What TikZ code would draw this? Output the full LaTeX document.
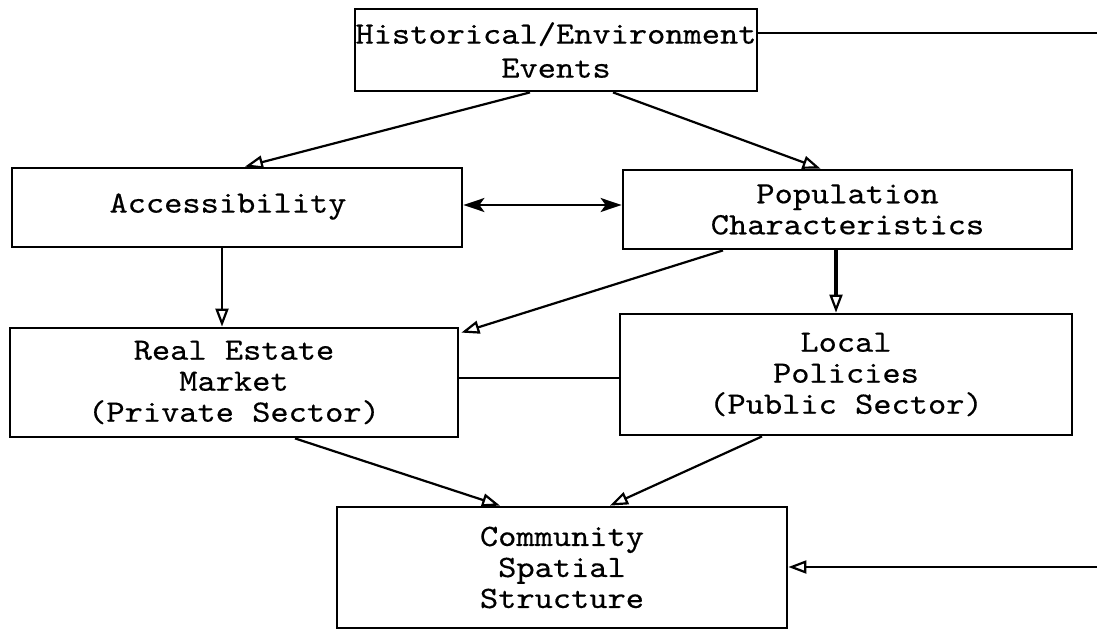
\documentclass[tikz,border=0pt]{standalone}
\usepackage{fontspec}
\newfontfamily\typew{lmmono10-regular.otf}[FakeStretch=1.12,FakeBold=0.4]
\usetikzlibrary{arrows.meta,calc}
\begin{document}
\begin{tikzpicture}[x=1pt,y=-1pt,
  box/.style={draw, line width=2.8pt, inner sep=0pt, align=center,
    font=\typew\fontsize{31}{31}\selectfont},
  conn/.style={line width=2.2pt},
  arr/.style={conn, -{Triangle[open,length=18pt,width=13pt]}},
  dbl/.style={conn, {Stealth[length=21pt,width=14pt,inset=5pt]}-{Stealth[length=21pt,width=14pt,inset=5pt]}}
]
\useasboundingbox[fill=white] (0,0) rectangle (1097,629);

\node[box, minimum width=402pt, minimum height=82pt] (hist) at (556,50)
  {Historical/Environment\\[3pt]Events};
\node[box, minimum width=450pt, minimum height=79pt] (acc) at (237,207.5)
  {\raisebox{9pt}{Accessibility\hspace*{18pt}}};
\node[box, minimum width=449pt, minimum height=79pt] (pop) at (847.5,209.5)
  {Population\\Characteristics};
\node[box, minimum width=448pt, minimum height=109pt] (real) at (234,382.5)
  {Real Estate\\Market\\(Private Sector)};
\node[box, minimum width=452pt, minimum height=121pt] (local) at (846,374.5)
  {Local\\Policies\\(Public Sector)};
\node[box, minimum width=450pt, minimum height=121pt] (comm) at (562,567.5)
  {Community\\Spatial\\Structure};

\coordinate (rtop) at (1097,33);
\coordinate (rbot) at (1097,567);

\draw[arr] ($(hist.south)+(-26,0)$) -- ($(acc.north)+(8,0)$);
\draw[arr] ($(hist.south)+(57,0)$) -- ($(pop.north)+(-27,0)$);
\draw[dbl] ($(acc.east)+(0,-2.5)$) -- ($(pop.west)+(0,-4.5)$);
\draw[arr] ($(acc.south)+(-15,0)$) -- ($(real.north)+(-12,0)$);
\draw[line width=4pt, -{Triangle[open,length=18pt,width=13pt,line width=2.2pt]}] ($(pop.south)+(-11.5,0)$) -- ($(local.north)+(-10,0)$);
\draw[arr] ($(pop.south)+(-124.5,0)$) -- ($(real.north east)+(2,6)$);
\draw[conn] ($(real.east)+(0,-4.5)$) -- ($(local.west)+(0,3.5)$);
\draw[arr] ($(real.south)+(61,0)$) -- ($(comm.north)+(-62,0)$);
\draw[arr] ($(local.south)+(-84,0)$) -- ($(comm.north)+(48,0)$);
\draw[conn] ($(hist.east)+(0,-17)$) -- (rtop);
\draw[arr] (rbot) -- ($(comm.east)+(0,-0.5)$);
\end{tikzpicture}
\end{document}
